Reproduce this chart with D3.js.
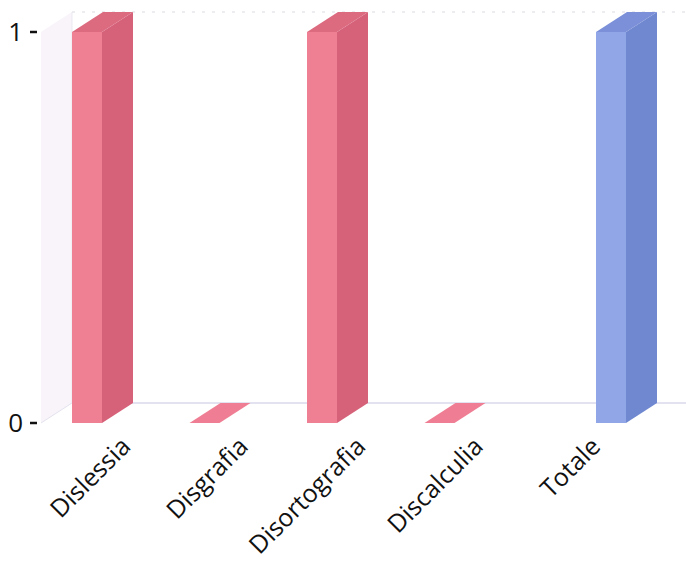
<!DOCTYPE html>
<html><head><meta charset="utf-8">
<script src="https://cdn.jsdelivr.net/npm/d3@7"></script>
<style>body{margin:0;background:#fff}</style>
</head><body>
<svg id="c" width="686" height="564"></svg>
<script>
const categories = ["Dislessia","Disgrafia","Disortografia","Discalculia","Totale"];
const dsaValues = [1,0,1,0,null];
const totaleValues = [null,null,null,null,1];
const yTicks = [0,1];
const seriesNames = ["dsa","totale"];

const svg = d3.select("#c");
const depthX = 31, depthY = -20;
const x0 = d3.scaleBand().domain(categories).range([72, 72 + 5*117.5]).paddingInner(0).paddingOuter(0);
const x1 = d3.scaleBand().domain(seriesNames).range([0, 84]).paddingInner(0.4444);
const y = d3.scaleLinear().domain([0,1]).range([423, 32]);

const colors = {
  dsa: {front:"#ef7f92", side:"#d6627a", top:"#dc6b80"},
  totale: {front:"#90a6e6", side:"#7088d0", top:"#7b90d8"}
};

// left wall
const y0 = y(0), y1 = y(1);
const wallBackX = x0.range()[0];
svg.append("path")
  .attr("d", `M${wallBackX - depthX},${y0} L${wallBackX - depthX},${y1} L${wallBackX},${y1+depthY} L${wallBackX},${y0+depthY} Z`)
  .attr("fill", "#f8f4fa");
svg.append("line").attr("x1", wallBackX - depthX).attr("y1", y0).attr("x2", wallBackX).attr("y2", y0+depthY)
  .attr("stroke", "#e4e2ee").attr("stroke-width", 1);
svg.append("line").attr("x1", wallBackX).attr("y1", y1+depthY).attr("x2", wallBackX).attr("y2", y0+depthY)
  .attr("stroke", "#ebe9f1").attr("stroke-width", 1);
// back gridlines
svg.append("line").attr("x1", wallBackX).attr("x2", 686).attr("y1", y0+depthY).attr("y2", y0+depthY)
  .attr("stroke", "#d9d9ec").attr("stroke-width", 1.5);
svg.append("line").attr("x1", wallBackX).attr("x2", 686).attr("y1", y1+depthY).attr("y2", y1+depthY)
  .attr("stroke", "#dcdce4").attr("stroke-width", 1.2).attr("stroke-dasharray", "3,7");

// bars
function drawBar(cat, s, v) {
  if (v === null) return;
  const c = colors[s];
  const xl = x0(cat) + x1(s), w = x1.bandwidth();
  const yt = y(v), yb = y(0);
  const g = svg.append("g");
  if (v > 0) {
    g.append("rect").attr("x", xl).attr("y", yt).attr("width", w).attr("height", yb-yt).attr("fill", c.front);
    g.append("path").attr("d", `M${xl+w},${yt} L${xl+w+depthX},${yt+depthY} L${xl+w+depthX},${yb+depthY} L${xl+w},${yb} Z`).attr("fill", c.side);
  }
  g.append("path").attr("d", `M${xl},${yt} L${xl+depthX},${yt+depthY} L${xl+w+depthX},${yt+depthY} L${xl+w},${yt} Z`)
    .attr("fill", v > 0 ? c.top : "#ef7e94");
}
categories.forEach((cat, i) => {
  drawBar(cat, "dsa", dsaValues[i]);
  drawBar(cat, "totale", totaleValues[i]);
});

// y axis
const ya = svg.append("g");
yTicks.forEach(t => {
  ya.append("text").attr("x", 23).attr("y", y(t)).attr("dy", "0.36em").attr("text-anchor", "end")
    .attr("font-family", "Open Sans, DejaVu Sans, sans-serif").attr("font-size", 26).attr("fill", "#111").text(t);
  ya.append("line").attr("x1", 30).attr("x2", 37).attr("y1", y(t)).attr("y2", y(t)).attr("stroke", "#111").attr("stroke-width", 2.5);
});

// x labels
categories.forEach(cat => {
  const lx = x0(cat) + 60, ly = 448;
  svg.append("text").attr("transform", `translate(${lx},${ly}) rotate(-45)`)
    .attr("text-anchor", "end").attr("font-family", "Open Sans, sans-serif").attr("font-size", 25).attr("fill", "#111")
    .text(cat);
});
</script>
</body></html>
